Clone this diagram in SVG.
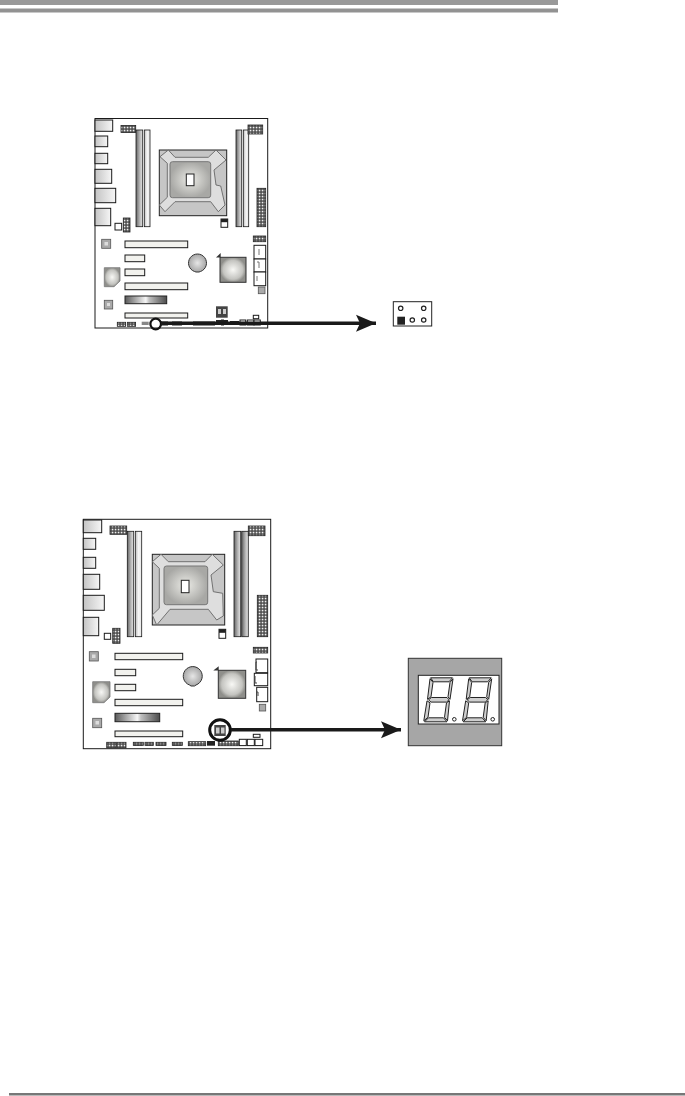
<svg xmlns="http://www.w3.org/2000/svg" width="685" height="1096" viewBox="0 0 685 1096">
<style>
.o{fill:#fff;stroke:#1a1a1a;stroke-width:1}
.p{fill:url(#port);stroke:#1a1a1a;stroke-width:1}
.w{fill:#fff;stroke:#1a1a1a;stroke-width:1}
.s{fill:#f2f2ee;stroke:#1a1a1a;stroke-width:1}
.d{fill:url(#dimm);stroke:#1a1a1a;stroke-width:.8}
.e{fill:url(#dimml);stroke:#1a1a1a;stroke-width:.8}
.k{fill:#222}
.g{fill:#aaa;stroke:#555;stroke-width:.8}
.h{fill:url(#dots);stroke:#222;stroke-width:.8}
.seg{fill:#cfcfcf;stroke:#222;stroke-width:1}
.pin{fill:#fff;stroke:#222;stroke-width:1.2}
.sock{fill:#c6c6c6;stroke:#222;stroke-width:1}
.plate{fill:#dedede;stroke:#666;stroke-width:.9}
</style>
<defs>
<linearGradient id="port"><stop offset="0" stop-color="#c4c4c4"/><stop offset="1" stop-color="#f6f6f6"/></linearGradient>
<linearGradient id="dimm"><stop offset="0" stop-color="#666"/><stop offset=".6" stop-color="#bbb"/><stop offset="1" stop-color="#e4e4e4"/></linearGradient>
<linearGradient id="dimml"><stop offset="0" stop-color="#bbb"/><stop offset=".5" stop-color="#f6f6f6"/><stop offset="1" stop-color="#e6e6e6"/></linearGradient>
<linearGradient id="pcie"><stop offset="0" stop-color="#5a5a5a"/><stop offset=".5" stop-color="#f6f6f6"/><stop offset=".58" stop-color="#c0c0c0"/><stop offset="1" stop-color="#4c4c4c"/></linearGradient>
<radialGradient id="core"><stop offset="0" stop-color="#ebebe6"/><stop offset="1" stop-color="#a8a8a5"/></radialGradient>
<radialGradient id="chip"><stop offset="0" stop-color="#f8f8f5"/><stop offset=".75" stop-color="#c4c4c0"/><stop offset="1" stop-color="#8f8f8b"/></radialGradient>
<radialGradient id="batt"><stop offset="0" stop-color="#e6e6e6"/><stop offset="1" stop-color="#a6a6a6"/></radialGradient>
<pattern id="dots" width="3" height="3" patternUnits="userSpaceOnUse"><rect width="3" height="3" fill="#444"/><rect x=".7" y=".7" width="1.7" height="1.7" fill="#eee"/></pattern>
<marker id="ah" markerUnits="userSpaceOnUse" markerWidth="24" markerHeight="20" refX="20" refY="10" orient="auto"><path d="M0 1.500L20 10L0 18.500L4 10Z" fill="#1a1a1a"/></marker>
<g id="digit">
<polygon class="seg" points="7.500,.5 29.500,.5 26,4.500 10.500,4.500"/>
<polygon class="seg" points="7,1.500 10,5 8,19.500 4.500,22"/>
<polygon class="seg" points="30,1.500 27,5 25,19.500 27,22"/>
<polygon class="seg" points="5.500,22.500 8.500,20.200 24,20.200 26,22.500 23.500,24.800 8,24.800"/>
<polygon class="seg" points="4,23.500 7,25.500 5,40 .8,43.500"/>
<polygon class="seg" points="26.500,23.500 23.500,25.500 21.500,40 24.500,43.500"/>
<polygon class="seg" points="1.500,44.500 24,44.500 20.500,40.500 5.500,40.500"/>
</g>
</defs>

<g id="header-bands"><rect x="0" y="0" width="558" height="5" fill="#999"/><rect x="0" y="8.500" width="558" height="4" fill="#929292"/></g>
<rect id="footer-line" x="9" y="1093" width="676" height="2.500" fill="#777"/>

<g id="board-1">
<rect class="o" x="95" y="118.500" width="172.700" height="209.500"/>
<rect class="p" x="95" y="120" width="17.700" height="11.300"/>
<rect class="p" x="95" y="136" width="12.700" height="10.700"/>
<rect class="p" x="95" y="153.300" width="12.700" height="10.400"/>
<rect class="p" x="95" y="169.300" width="16.700" height="14"/>
<rect class="p" x="95" y="188.300" width="20.700" height="14.400"/>
<rect class="p" x="95" y="208.300" width="15.700" height="17.400"/>
<rect class="h" x="121" y="125.500" width="14.700" height="7"/>
<rect class="d" x="136" y="130" width="6.700" height="96.700"/>
<rect class="e" x="144.300" y="130" width="5.700" height="96.700"/>
<rect class="d" x="236" y="130" width="5.700" height="96.700"/>
<rect class="e" x="243.300" y="130" width="5.400" height="96.700"/>
<rect class="h" x="248" y="125" width="14.700" height="9"/>
<rect class="h" x="257" y="188.300" width="8.700" height="38.400"/>
<g>
<rect class="sock" x="159.300" y="150" width="67.400" height="65.700"/>
<polygon class="plate" points="160,156.700 168.300,150 175,157.300 208.300,157.300 216,150 226,160 214,170 216,185 220.700,186 225,205 218.300,211.700 210.700,201.700 175,201.700 165,211.700 159.300,205 167.300,197.300 167.300,163.300"/>
<rect x="170" y="161.700" width="40.700" height="36" rx="2.500" fill="url(#core)" stroke="#777" stroke-width="1"/>
<rect x="186.300" y="174" width="7.700" height="11.700" fill="#fff" stroke="#222" stroke-width="1"/>
</g>
<rect class="w" x="221" y="219" width="6.700" height="8.300"/><rect class="k" x="221" y="219" width="6.700" height="3.200"/>
<rect class="w" x="115" y="223.300" width="6.700" height="6.700"/>
<rect class="h" x="123.300" y="218" width="6.700" height="14"/>
<rect class="g" x="101.700" y="239.300" width="9" height="9"/><rect x="104.500" y="242" width="3.500" height="3.500" fill="#ddd"/>
<rect class="s" x="125" y="241" width="62.700" height="6.700"/>
<rect class="s" x="125" y="255" width="19.700" height="6.700"/>
<rect class="s" x="125" y="269" width="19.700" height="6.700"/>
<rect class="s" x="125" y="283" width="62.700" height="6.700"/>
<rect x="125" y="296" width="41.700" height="7.700" fill="url(#pcie)" stroke="#222" stroke-width="1"/>
<rect class="s" x="125" y="313" width="62.700" height="5"/>
<path d="M104.300 267.700H120V281L114 286.700H104.300Z" fill="url(#chip)" stroke="#777" stroke-width=".8"/>
<rect class="g" x="104.300" y="300.300" width="8.400" height="8.700"/><rect x="107" y="303" width="3" height="3" fill="#ddd"/>
<path d="M194.500 271.500A9 9 0 1 1 200.500 271.500L199 272H196Z" fill="url(#batt)" stroke="#333" stroke-width="1"/>
<rect x="220" y="257.300" width="26" height="25" fill="url(#chip)" stroke="#333" stroke-width="1"/>
<polygon points="216,257.500 220.700,253 220.700,257.500" fill="#333"/>
<rect class="h" x="253.300" y="236" width="12.400" height="5.700"/>
<rect class="w" x="254" y="245.300" width="11.700" height="13.700"/>
<rect class="w" x="254" y="259" width="11.700" height="13"/>
<rect class="w" x="254" y="272" width="11.700" height="13.700"/>
<path d="M259 249v6M257 262h2v6M257 276v5" stroke="#777" fill="none"/>
<rect class="g" x="258.300" y="287" width="6.700" height="6.700"/>
<rect x="216" y="306.300" width="11.700" height="11.400" fill="#444"/><path d="M218 309h3v5h-3zM223 309h3v5h-3z" fill="#ccc"/>
<rect class="w" x="253.300" y="315.300" width="5.400" height="3.400"/>
<rect class="h" x="117.300" y="322.300" width="8.300" height="4"/>
<rect class="h" x="127.300" y="322.300" width="8.300" height="4"/>
<rect x="141.700" y="321.700" width="7" height="3.300" fill="#888"/>
<rect class="k" x="161" y="321.500" width="7" height="4"/><rect class="k" x="172" y="321.500" width="10" height="4"/>
<rect class="k" x="193" y="321.500" width="22" height="4"/>
<rect class="k" x="216" y="320" width="12" height="5"/><rect class="k" x="221" y="319.500" width="3" height="6"/>
<rect class="k" x="230" y="321" width="9" height="4"/>
<rect class="w" x="240" y="320" width="5.700" height="5"/><rect class="w" x="247.300" y="320" width="6.700" height="5"/><rect class="w" x="254" y="320" width="6.300" height="5"/>
<circle cx="155.700" cy="324" r="5.300" fill="none" stroke="#111" stroke-width="2.200"/>
</g>

<g id="jumper-1">
<rect x="393.300" y="301.700" width="38.400" height="24.300" fill="#fff" stroke="#222" stroke-width="1"/>
<rect x="397.300" y="316.700" width="7.700" height="8" fill="#222"/>
<circle class="pin" cx="400.700" cy="308.300" r="2.200"/><circle class="pin" cx="423.700" cy="308.300" r="2.200"/>
<circle class="pin" cx="412.300" cy="320" r="2.200"/><circle class="pin" cx="423.700" cy="320" r="2.200"/>
</g>

<g id="board-2">
<rect class="o" x="83.300" y="519.300" width="187.400" height="229.400"/>
<rect class="p" x="83.300" y="520" width="18.400" height="12.700"/>
<rect class="p" x="83.300" y="538.300" width="12.400" height="11"/>
<rect class="p" x="83.300" y="557.300" width="12.400" height="11"/>
<rect class="p" x="83.300" y="574.300" width="16.400" height="15"/>
<rect class="p" x="83.300" y="595.300" width="21" height="15"/>
<rect class="p" x="83.300" y="617.300" width="15.400" height="18.400"/>
<rect class="h" x="110" y="526" width="16.700" height="8.300"/>
<rect class="d" x="127.300" y="531.300" width="6.400" height="105.400"/>
<rect class="e" x="135.300" y="531.300" width="6.400" height="105.400"/>
<rect class="d" x="234" y="531.300" width="6.700" height="105.400"/>
<rect class="d" x="241.700" y="531.300" width="6.600" height="105.400"/>
<rect class="h" x="248.300" y="526" width="16.700" height="9.700"/>
<rect class="h" x="257.300" y="595.300" width="10.400" height="41.400"/>
<g>
<rect class="sock" x="152.300" y="554.300" width="72.400" height="70.700"/>
<polygon class="plate" points="152.300,561.700 161,554.300 168.300,561.700 205,561.700 212.300,554.300 223.300,565 211,575 213.300,591.700 222.700,593.300 223.300,616 216.700,620 208.300,609.300 170,609.300 156.700,625 152.300,615 159.300,608.300 159.300,568.300"/>
<rect x="164" y="566" width="43.700" height="38.700" rx="2.500" fill="url(#core)" stroke="#777" stroke-width="1"/>
<rect x="181.300" y="580.300" width="7.700" height="12.400" fill="#fff" stroke="#222" stroke-width="1"/>
</g>
<rect class="w" x="219" y="629.300" width="6.700" height="9"/><rect class="k" x="219" y="629.300" width="6.700" height="3.500"/>
<rect class="w" x="104.300" y="633.300" width="6.400" height="6"/>
<rect class="h" x="112.700" y="628.300" width="7.300" height="15"/>
<rect class="g" x="89.300" y="651.700" width="9" height="9.300"/><rect x="92" y="654.500" width="3.500" height="3.500" fill="#ddd"/>
<rect class="s" x="115" y="653.300" width="67.700" height="6.400"/>
<rect class="s" x="115" y="669.300" width="20.700" height="6.400"/>
<rect class="s" x="115" y="684.300" width="20.700" height="6.400"/>
<rect class="s" x="115" y="699.300" width="67.700" height="6.400"/>
<rect x="115" y="713.300" width="44.700" height="8.400" fill="url(#pcie)" stroke="#222" stroke-width="1"/>
<rect class="s" x="115" y="731" width="67.700" height="5.700"/>
<path d="M92.700 681.700H110V697L104 702.700H92.700Z" fill="url(#chip)" stroke="#777" stroke-width=".8"/>
<rect class="g" x="92.700" y="718.300" width="9" height="9.400"/><rect x="95.500" y="721" width="3.500" height="3.500" fill="#ddd"/>
<path d="M189.500 685A9.500 9.500 0 1 1 196 685L194.500 686H191Z" fill="url(#batt)" stroke="#333" stroke-width="1"/>
<rect x="218.300" y="670.300" width="27.400" height="28" fill="url(#chip)" stroke="#333" stroke-width="1"/>
<polygon points="213.300,670.500 218.700,666.300 218.700,670.500" fill="#333"/>
<rect class="h" x="253.300" y="647.300" width="14.400" height="5.700"/>
<rect class="w" x="256" y="659" width="11.700" height="13.700"/>
<rect class="w" x="254.300" y="673.300" width="13.400" height="12.400"/>
<rect class="w" x="256.700" y="687.300" width="11" height="14.400"/>
<path d="M257 662h-1v8h2M255 676v7h2M256 692h2v4" stroke="#444" fill="none"/>
<rect class="g" x="259.300" y="704.300" width="6.400" height="6.700"/>
<rect class="h" x="106.700" y="742.300" width="9.300" height="5.500"/><rect class="h" x="116.700" y="742.300" width="9.300" height="5.500"/>
<rect class="h" x="133.300" y="742.300" width="10" height="3.300"/><rect class="h" x="145" y="742.300" width="8.300" height="3.300"/><rect class="h" x="156" y="742.300" width="10" height="3.300"/><rect class="h" x="172.300" y="742.300" width="10" height="3.300"/>
<rect class="h" x="188.300" y="741.700" width="17.400" height="4"/><rect class="k" x="207" y="741" width="8" height="4.700"/><rect class="h" x="218.300" y="741" width="20" height="4.700"/>
<rect class="w" x="239.300" y="739.300" width="7" height="6.300"/><rect class="w" x="247.300" y="739.300" width="7" height="6.300"/><rect class="w" x="255" y="739.300" width="7.700" height="6.300"/>
<rect class="w" x="253.300" y="734.300" width="6.700" height="3"/>
<rect x="214.300" y="725" width="11.400" height="11" fill="#444"/><path d="M216 727.500h3.500v6H216zM221 727.500h3.500v6H221z" fill="#ccc"/>
<circle cx="220" cy="730" r="10.300" fill="none" stroke="#111" stroke-width="3"/>
</g>

<g id="display">
<rect x="408.300" y="658.300" width="93.400" height="87.400" fill="#a6a6a6" stroke="#333" stroke-width="1"/>
<rect x="418.300" y="675.300" width="80.700" height="48.700" fill="#fff" stroke="#222" stroke-width="1"/>
<use href="#digit" x="423" y="677.300"/>
<use href="#digit" x="461.700" y="677.300"/>
<circle cx="454.300" cy="719.300" r="1.800" fill="#fff" stroke="#222" stroke-width="1"/>
<circle cx="492.700" cy="719.300" r="1.800" fill="#fff" stroke="#222" stroke-width="1"/>
</g>

<g id="connectors" fill="none" stroke="#1a1a1a" stroke-width="3.400">
<path d="M161 323.300H376" marker-end="url(#ah)"/>
<path d="M231 729.700H401" marker-end="url(#ah)"/>
</g>
</svg>
